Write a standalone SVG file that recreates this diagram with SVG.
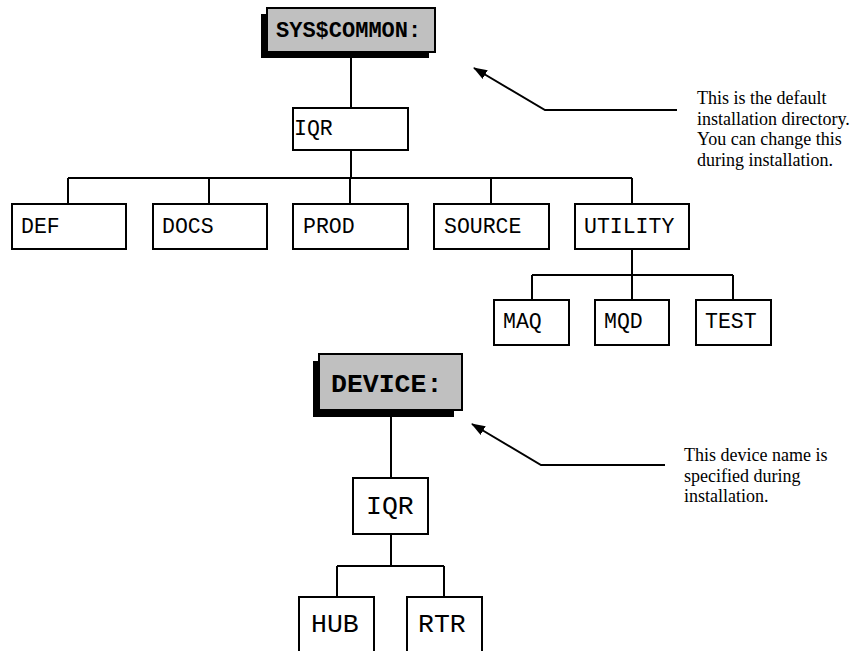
<svg xmlns="http://www.w3.org/2000/svg" width="861" height="651" viewBox="0 0 861 651">
<style>
.box{fill:#fff;stroke:#000;stroke-width:2}
.hdr{fill:#c0c0c0;stroke:#000;stroke-width:2}
.sh{fill:#000}
.ln{fill:none;stroke:#000;stroke-width:2}
.t{font-family:"Liberation Mono","Courier New",monospace;font-size:21.5px;fill:#000}
.tb{font-family:"Liberation Mono","Courier New",monospace;font-size:26.5px;fill:#000}
.h{font-family:"Liberation Mono","Courier New",monospace;font-weight:bold;fill:#000}
.note{font-family:"Liberation Serif","Times New Roman",serif;font-size:18px;fill:#000}
</style>
<defs>
<marker id="ah" markerWidth="14" markerHeight="10" refX="13" refY="5" orient="auto" markerUnits="userSpaceOnUse">
<path d="M0,0 L14,5 L0,10 z" fill="#000"/>
</marker>
</defs>
<g id="connectors">
<path class="ln" d="M351,52 V108"/>
<path class="ln" d="M351,150 V178 M68,178 H632 M68,178 V204 M209,178 V204 M350,178 V204 M491,178 V204 M632,178 V204"/>
<path class="ln" d="M632,249 V300 M532,275 H733 M532,275 V300 M733,275 V300"/>
<path class="ln" d="M391,410 V478"/>
<path class="ln" d="M391,534 V566 M337,566 H444 M337,566 V597 M444,566 V597"/>
<path class="ln" d="M677,110 H545 L474,68" marker-end="url(#ah)"/>
<path class="ln" d="M665,465 H541 L472,424" marker-end="url(#ah)"/>
</g>
<g id="sys-common">
<rect class="sh" x="261" y="14" width="168" height="44"/>
<rect class="hdr" x="267" y="8" width="168" height="44"/>
<text class="h" x="276" y="37" font-size="22">SYS$COMMON:</text>
</g>
<g id="iqr-top"><rect class="box" x="293" y="108" width="115" height="42"/><text class="t" x="294" y="135">IQR</text></g>
<g id="def"><rect class="box" x="12" y="204" width="114" height="45"/><text class="t" x="21" y="233">DEF</text></g>
<g id="docs"><rect class="box" x="153" y="204" width="114" height="45"/><text class="t" x="162" y="233">DOCS</text></g>
<g id="prod"><rect class="box" x="293" y="204" width="115" height="45"/><text class="t" x="303" y="233">PROD</text></g>
<g id="source"><rect class="box" x="434" y="204" width="115" height="45"/><text class="t" x="444" y="233">SOURCE</text></g>
<g id="utility"><rect class="box" x="575" y="204" width="114" height="45"/><text class="t" x="584" y="233">UTILITY</text></g>
<g id="maq"><rect class="box" x="494" y="300" width="75" height="45"/><text class="t" x="503" y="328">MAQ</text></g>
<g id="mqd"><rect class="box" x="595" y="300" width="74" height="45"/><text class="t" x="604" y="328">MQD</text></g>
<g id="test"><rect class="box" x="696" y="300" width="75" height="45"/><text class="t" x="705" y="328">TEST</text></g>
<g id="device">
<rect class="sh" x="313" y="361" width="141" height="56"/>
<rect class="hdr" x="319" y="354" width="143" height="56"/>
<text class="h" x="331" y="392" font-size="26.5">DEVICE:</text>
</g>
<g id="iqr-device"><rect class="box" x="353" y="478" width="75" height="56"/><text class="tb" x="366" y="514">IQR</text></g>
<g id="hub"><rect class="box" x="299" y="597" width="75" height="70"/><text class="tb" x="311" y="632">HUB</text></g>
<g id="rtr"><rect class="box" x="407" y="597" width="75" height="70"/><text class="tb" x="418" y="632">RTR</text></g>
<g id="note-top">
<text class="note" x="697" y="104">This is the default</text>
<text class="note" x="697" y="124.5">installation directory.</text>
<text class="note" x="697" y="145">You can change this</text>
<text class="note" x="697" y="165.5">during installation.</text>
</g>
<g id="note-device">
<text class="note" x="684" y="461">This device name is</text>
<text class="note" x="684" y="481.5">specified during</text>
<text class="note" x="684" y="502">installation.</text>
</g>
</svg>
